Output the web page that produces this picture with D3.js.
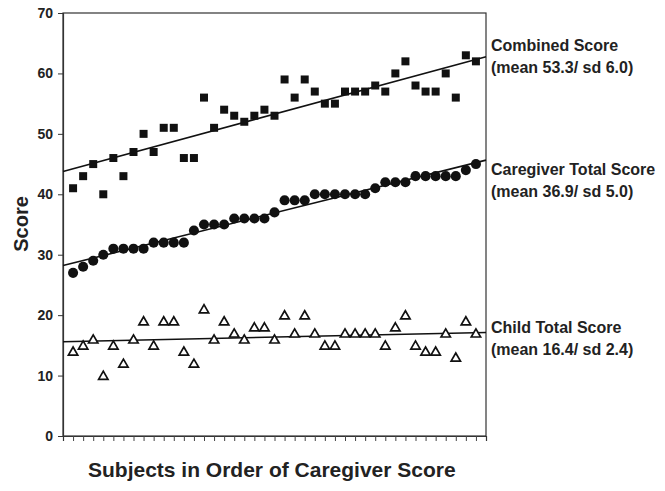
<!DOCTYPE html>
<html>
<head>
<meta charset="utf-8">
<script src="https://cdn.jsdelivr.net/npm/d3@7"></script>
<style>
  html, body { margin: 0; padding: 0; background: #fff; }
  svg { display: block; font-family: "Liberation Sans", Arial, sans-serif; }
</style>
</head>
<body>
<svg id="chart" width="665" height="491"></svg>
<script>
// ---- data (subjects ordered by caregiver score) ----
const subjects = d3.range(1, 42);
const caregiver = [27,28,29,30,31,31,31,31,32,32,32,32,34,35,35,35,36,36,36,36,37,39,39,39,40,40,40,40,40,40,41,42,42,42,43,43,43,43,43,44,45];
const child     = [14,15,16,10,15,12,16,19,15,19,19,14,12,21,16,19,17,16,18,18,16,20,17,20,17,15,15,17,17,17,17,15,18,20,15,14,14,17,13,19,17];
const combined  = [41,43,45,40,46,43,47,50,47,51,51,46,46,56,51,54,53,52,53,54,53,59,56,59,57,55,55,57,57,57,58,57,60,62,58,57,57,60,56,63,62];
const yTicks = [0,10,20,30,40,50,60,70];
const labels = [
  { name: "Combined Score", stat: "(mean 53.3/ sd 6.0)", y1: 51, y2: 73 },
  { name: "Caregiver Total Score", stat: "(mean 36.9/ sd 5.0)", y1: 175, y2: 197 },
  { name: "Child Total Score", stat: "(mean 16.4/ sd 2.4)", y1: 333, y2: 355 }
];

const margin = { left: 63, top: 13 };
const W = 423, H = 423;

const svg = d3.select("#chart");
const g = svg.append("g").attr("transform", `translate(${margin.left},${margin.top})`);

const x = d3.scaleLinear().domain([0, 42]).range([0, W]);
const y = d3.scaleLinear().domain([0, 70]).range([H, 0]);

// frame
g.append("rect").attr("x", 0).attr("y", 0).attr("width", W).attr("height", H)
  .attr("fill", "none").attr("stroke", "#333").attr("stroke-width", 1.2);

// y axis
const yAxis = g.append("g").call(d3.axisLeft(y).tickValues(yTicks).tickSize(5).tickPadding(5));
yAxis.select(".domain").attr("stroke", "#333").attr("stroke-width", 1.2);
yAxis.selectAll(".tick line").attr("stroke", "#333");
yAxis.selectAll(".tick text").attr("font-size", 14).attr("font-weight", "bold")
  .attr("fill", "#222").attr("font-family", "Liberation Sans, Arial, sans-serif");

// x axis
const xAxis = g.append("g").attr("transform", `translate(0,${H})`)
  .call(d3.axisBottom(x).tickValues(subjects).tickSize(5).tickFormat(""));
xAxis.select(".domain").attr("stroke", "#333").attr("stroke-width", 1.2);
xAxis.selectAll(".tick line").attr("stroke", "#444");

// regression lines
function fit(vals) {
  const n = vals.length;
  const mx = d3.mean(subjects), my = d3.mean(vals);
  let sxy = 0, sxx = 0;
  for (let i = 0; i < n; i++) {
    sxy += (subjects[i] - mx) * (vals[i] - my);
    sxx += (subjects[i] - mx) ** 2;
  }
  const b = sxy / sxx, a = my - b * mx;
  return xv => a + b * xv;
}
[combined, caregiver, child].forEach(vals => {
  const f = fit(vals);
  const xs = x.domain();
  g.append("line")
    .attr("x1", x(xs[0])).attr("y1", y(f(xs[0])))
    .attr("x2", x(xs[1])).attr("y2", y(f(xs[1])))
    .attr("stroke", "#111").attr("stroke-width", 1.6);
});

// markers
const sq = d3.symbol().type(d3.symbolSquare).size(64);
const ci = d3.symbol().type(d3.symbolCircle).size(80);
const tr = d3.symbol().type(d3.symbolTriangle).size(38);

g.append("g").selectAll("path").data(combined).join("path")
  .attr("d", sq).attr("transform", (d, i) => `translate(${x(subjects[i])},${y(d)})`)
  .attr("fill", "#111");
g.append("g").selectAll("path").data(caregiver).join("path")
  .attr("d", ci).attr("transform", (d, i) => `translate(${x(subjects[i])},${y(d)})`)
  .attr("fill", "#111");
g.append("g").selectAll("path").data(child).join("path")
  .attr("d", tr).attr("transform", (d, i) => `translate(${x(subjects[i])},${y(d) + 1})`)
  .attr("fill", "#fff").attr("stroke", "#111").attr("stroke-width", 1.7);

// right labels
const lg = svg.append("g");
labels.forEach(l => {
  lg.append("text").attr("x", 491).attr("y", l.y1).text(l.name)
    .attr("font-size", 16).attr("font-weight", "bold").attr("fill", "#222");
  lg.append("text").attr("x", 491).attr("y", l.y2).text(l.stat)
    .attr("font-size", 16).attr("font-weight", "bold").attr("fill", "#222");
});

// axis titles
svg.append("text").attr("x", 88).attr("y", 477)
  .text("Subjects in Order of Caregiver Score")
  .attr("font-size", 21).attr("font-weight", "bold").attr("fill", "#222");
svg.append("text").attr("transform", "translate(28,224) rotate(-90)")
  .attr("text-anchor", "middle").text("Score")
  .attr("font-size", 20).attr("font-weight", "bold").attr("fill", "#222");
</script>
</body>
</html>
